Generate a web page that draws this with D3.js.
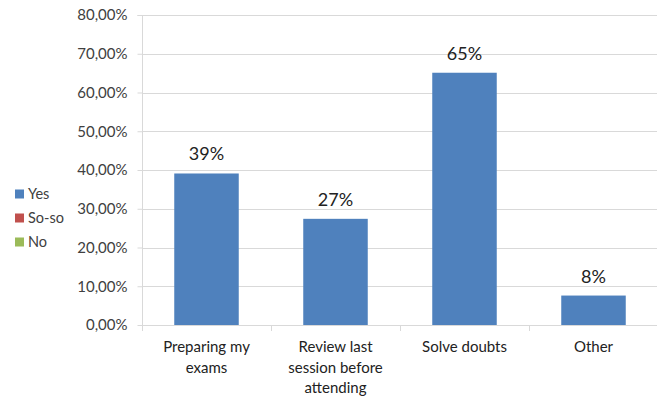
<!DOCTYPE html>
<html>
<head>
<meta charset="utf-8">
<script src="https://cdn.jsdelivr.net/npm/d3@7"></script>
<style>
  body { margin: 0; background: #fff; }
  svg { display: block; font-family: Lato, "Open Sans", sans-serif; }
</style>
</head>
<body>
<div id="chart"></div>
<script>
// data
const categories = ["Preparing my exams", "Review last session before attending", "Solve doubts", "Other"];
const labelLines = [["Preparing my", "exams"], ["Review last", "session before", "attending"], ["Solve doubts"], ["Other"]];
const yesValues = [0.391, 0.274, 0.651, 0.076];
const legendNames = ["Yes", "So-so", "No"];
const legendColors = ["#4F81BD", "#C0504D", "#9BBB59"];
const yTicks = [0, 0.1, 0.2, 0.3, 0.4, 0.5, 0.6, 0.7, 0.8];

const width = 657, height = 398;
const plotLeft = 142, plotRight = 658, plotTop = 15, plotBottom = 325;

const svg = d3.select("#chart").append("svg")
    .attr("width", width)
    .attr("height", height);

const x = d3.scaleBand()
    .domain(categories)
    .range([plotLeft, plotRight])
    .paddingInner(0.5)
    .paddingOuter(0.25);

const y = d3.scaleLinear()
    .domain([0, 0.8])
    .range([plotBottom, plotTop]);

const pct = v => d3.format(".2f")(v * 100).replace(".", ",") + "%";

// gridlines
svg.append("g")
    .selectAll("line")
    .data(yTicks.slice(1))
    .enter()
    .append("line")
    .attr("x1", plotLeft)
    .attr("x2", width)
    .attr("y1", d => Math.round(y(d)) + 0.5)
    .attr("y2", d => Math.round(y(d)) + 0.5)
    .attr("stroke", "#D9D9D9")
    .attr("stroke-width", 1);

// y axis
const yAxis = svg.append("g")
    .attr("transform", `translate(${plotLeft + 0.5},0)`)
    .call(d3.axisLeft(y).tickValues(yTicks).tickFormat(pct).tickSize(5).tickPadding(10));
yAxis.select(".domain").attr("stroke", "#D9D9D9").attr("d", `M-5,${plotTop + 0.5}H0V${plotBottom + 0.5}`);
yAxis.selectAll(".tick line").attr("stroke", "#D9D9D9");
yAxis.selectAll(".tick text")
    .attr("font-size", "15px")
    .attr("fill", "#404040")
    .attr("font-family", "Lato, sans-serif");

// x axis line with category separators
const bounds = categories.map(c => x(c) - x.step() * x.paddingInner() / 2);
svg.append("line")
    .attr("x1", plotLeft)
    .attr("x2", width)
    .attr("y1", plotBottom + 0.5)
    .attr("y2", plotBottom + 0.5)
    .attr("stroke", "#D9D9D9");
svg.append("g")
    .selectAll("line")
    .data(bounds)
    .enter()
    .append("line")
    .attr("x1", d => Math.round(d) + 0.5)
    .attr("x2", d => Math.round(d) + 0.5)
    .attr("y1", plotBottom)
    .attr("y2", plotBottom + 6)
    .attr("stroke", "#D9D9D9");

// bars
svg.append("g")
    .selectAll("rect")
    .data(yesValues)
    .enter()
    .append("rect")
    .attr("x", (d, i) => x(categories[i]))
    .attr("width", x.bandwidth())
    .attr("y", d => y(d))
    .attr("height", d => y(0) - y(d))
    .attr("fill", legendColors[0]);

// value labels
svg.append("g")
    .selectAll("text")
    .data(yesValues)
    .enter()
    .append("text")
    .attr("x", (d, i) => x(categories[i]) + x.bandwidth() / 2)
    .attr("y", d => y(d) - 13)
    .attr("text-anchor", "middle")
    .attr("font-size", "18px")
    .attr("fill", "#222")
    .text(d => d3.format(".0%")(d));

// category labels
const catText = svg.append("g")
    .selectAll("text")
    .data(labelLines)
    .enter()
    .append("text")
    .attr("text-anchor", "middle")
    .attr("font-size", "15px")
    .attr("fill", "#222")
    .attr("transform", (d, i) => `translate(${x(categories[i]) + x.bandwidth() / 2},352)`);
catText.selectAll("tspan")
    .data(d => d)
    .enter()
    .append("tspan")
    .attr("x", 0)
    .attr("y", (d, i) => i * 20.5)
    .text(d => d);

// legend
const legend = svg.append("g")
    .selectAll("g")
    .data(legendNames)
    .enter()
    .append("g")
    .attr("transform", (d, i) => `translate(15,${194 + i * 24})`);
legend.append("rect")
    .attr("x", 0)
    .attr("y", -4.5)
    .attr("width", 9)
    .attr("height", 9)
    .attr("fill", (d, i) => legendColors[i]);
legend.append("text")
    .attr("x", 13)
    .attr("y", 5)
    .attr("font-size", "14.5px")
    .attr("fill", "#404040")
    .text(d => d);
</script>
</body>
</html>
